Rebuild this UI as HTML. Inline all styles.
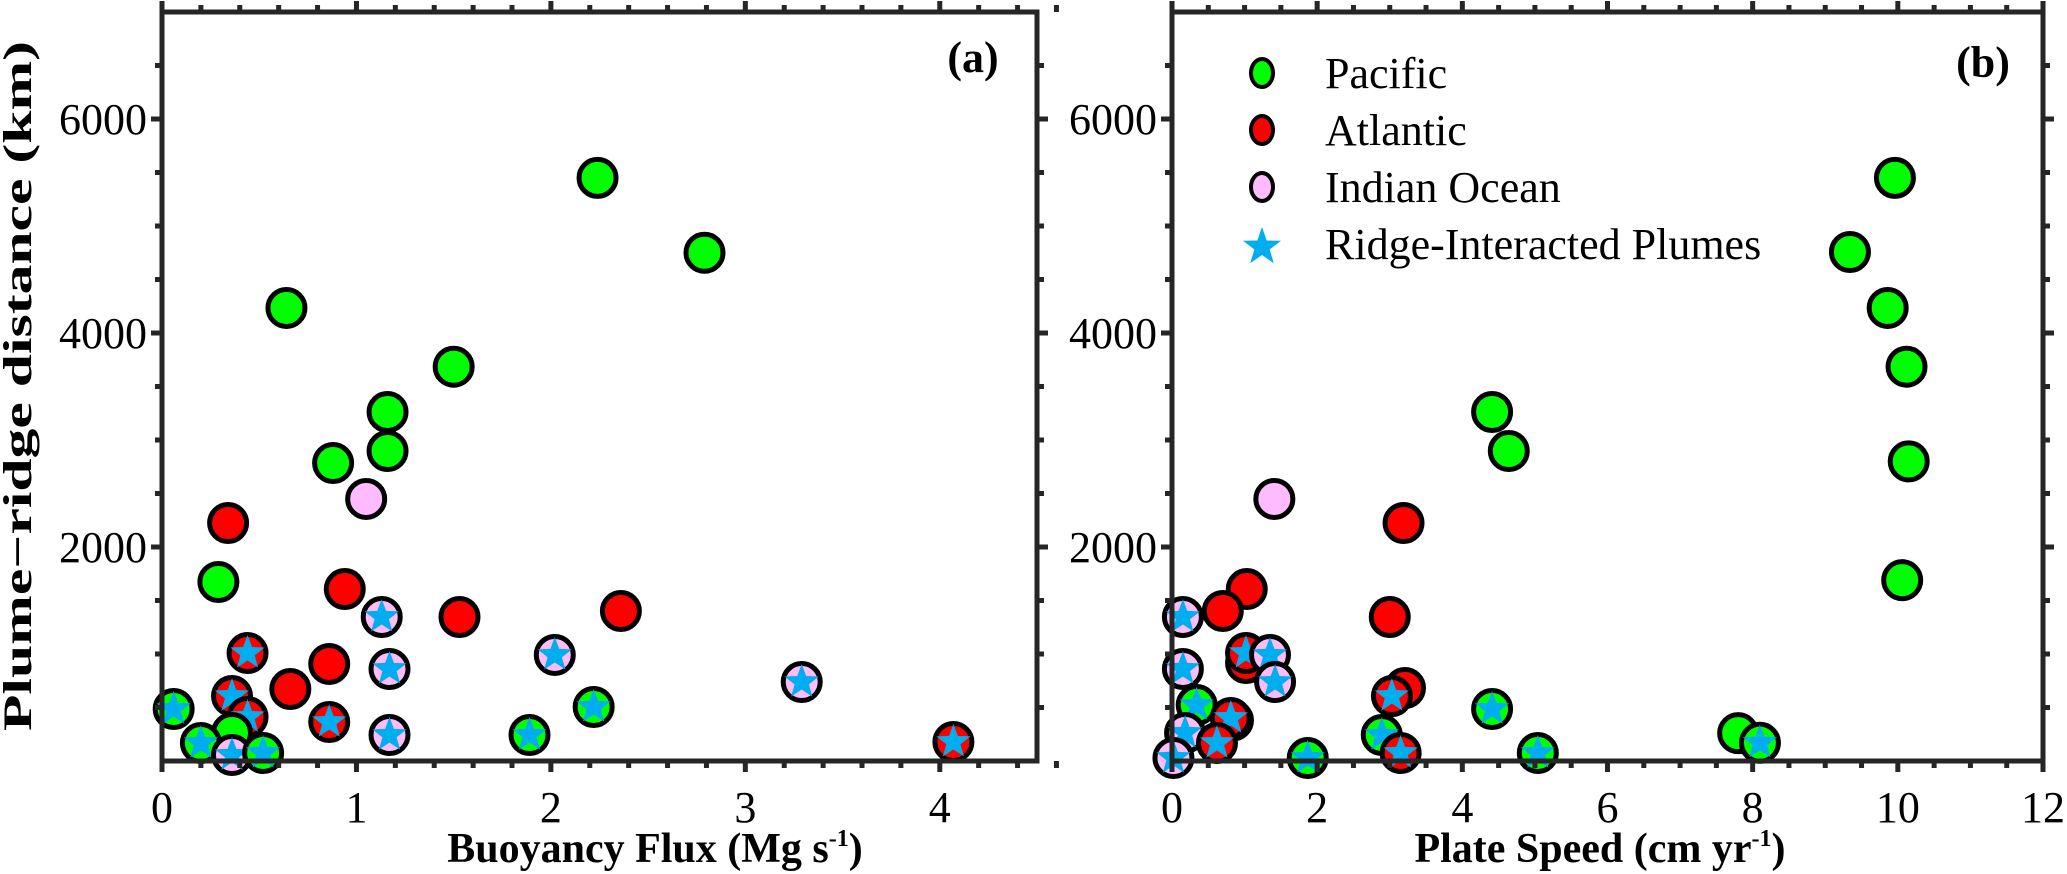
<!DOCTYPE html>
<html><head><meta charset="utf-8"><style>
html,body{margin:0;padding:0;background:#fff;}
svg{display:block;font-family:"Liberation Serif","DejaVu Serif",serif;}
svg text{font-family:"Liberation Serif","DejaVu Serif",serif !important;fill:#000;}
</style></head><body>
<svg id="chart" width="2067" height="874" viewBox="0 0 2067 874" xmlns="http://www.w3.org/2000/svg" font-family="Liberation Serif, serif">
<g id="plotA"></g>
<g id="plotB"></g>
<text x="22" y="386" transform="rotate(-90 22 386)" text-anchor="middle" dominant-baseline="middle" font-weight="bold" font-size="40" textLength="690" lengthAdjust="spacingAndGlyphs">Plume−ridge distance (km)</text>
<text x="655" y="862" text-anchor="middle" font-weight="bold" font-size="42"><tspan>Buoyancy Flux (Mg s</tspan><tspan font-size="24" dy="-16">-1</tspan><tspan dy="16">)</tspan></text>
<text x="1600" y="862" text-anchor="middle" font-weight="bold" font-size="42"><tspan>Plate Speed (cm yr</tspan><tspan font-size="24" dy="-16">-1</tspan><tspan dy="16">)</tspan></text>
<text x="973" y="72" text-anchor="middle" font-weight="bold" font-size="44">(a)</text>
<text x="1983" y="77" text-anchor="middle" font-weight="bold" font-size="44">(b)</text>
<g>
<g><ellipse cx="1262" cy="73" rx="11" ry="14" fill="#00ff00" stroke="#000" stroke-width="4"/><text x="1325" y="88" font-size="44">Pacific</text></g>
<g><ellipse cx="1262" cy="130" rx="11" ry="14" fill="#ff0000" stroke="#000" stroke-width="4"/><text x="1325" y="145" font-size="44">Atlantic</text></g>
<g><ellipse cx="1262" cy="187" rx="11" ry="14" fill="#ffbbff" stroke="#000" stroke-width="4"/><text x="1325" y="202" font-size="44">Indian Ocean</text></g>
<g><polygon id="legStar" fill="#00aeef"/><text x="1325" y="259" font-size="44">Ridge-Interacted Plumes</text></g>
</g>
</svg>
<script>
// Panel (a): buoyancy flux vs distance
const aX = [2.24,2.79,0.64,1.50,1.16,1.16,0.88,1.05,0.34,0.29,0.94,1.13,1.53,0.44,2.02,0.86,1.17,0.66,2.36,3.29,0.06,0.36,0.44,0.86,2.22,0.36,0.20,1.89,1.17,4.07,0.36,0.52];
const aY = [5450,4750,4234,3685,3262,2897,2785,2449,2224,1673,1607,1346,1346,1009,991,907,860,673,1402,738,486,607,411,364,505,262,168,243,243,178,56,75];
const aG = ['P','P','P','P','P','P','P','I','A','P','A','I','A','A','I','A','I','A','A','I','P','A','A','A','P','P','P','P','I','A','I','P'];
const aR = [0,0,0,0,0,0,0,0,0,0,0,1,0,1,1,0,1,0,0,1,1,1,1,1,1,0,1,1,1,1,1,1];
// Panel (b): plate speed vs distance
const bX = [9.96,9.34,9.86,10.12,10.15,10.06,4.41,4.64,1.41,3.19,1.03,0.70,0.15,3.00,1.02,1.02,1.35,0.15,1.42,3.21,3.03,0.34,0.84,0.81,4.41,0.18,2.89,7.80,8.10,0.62,3.15,1.87,5.04,0.02];
const bY = [5450,4757,4234,3685,2800,1690,3262,2897,2449,2224,1607,1402,1346,1346,916,1009,991,860,738,682,607,523,380,402,486,262,243,260,170,168,75,28,75,28];
const bG = ['P','P','P','P','P','P','P','P','I','A','A','A','I','A','A','A','I','I','I','A','A','P','A','A','P','I','P','P','P','A','A','P','P','I'];
const bR = [0,0,0,0,0,0,0,0,0,0,0,0,1,0,0,1,1,1,1,0,1,1,0,1,1,1,1,0,1,1,1,1,1,1];
const aXTicks = ['0','1','2','3','4'];
const bXTicks = ['0','2','4','6','8','10','12'];
const yTicks = ['2000','4000','6000'];

const NS='http://www.w3.org/2000/svg';
const COL={P:'#00ff00',A:'#ff0000',I:'#ffbbff'};
const NAMES={P:'pacific',A:'atlantic',I:'indian-ocean'};
function mk(tag,attrs,parent){const e=document.createElementNS(NS,tag);for(const k in attrs)e.setAttribute(k,attrs[k]);parent.appendChild(e);return e;}
function starPts(cx,cy,R,r){let p=[];for(let i=0;i<10;i++){const a=-Math.PI/2+i*Math.PI/5;const rad=i%2?r:R;p.push((cx+rad*Math.cos(a)).toFixed(1)+','+(cy+rad*Math.sin(a)).toFixed(1));}return p.join(' ');}
document.getElementById('legStar').setAttribute('points',starPts(1262,247,20,8));

const TOP=12,BOT=761,YMAX=7000;
function yS(v){return BOT-(v/YMAX)*(BOT-TOP);}
function panel(g,L,R,xmax,xMajor,xMinor,xt,X,Y,G,Rg,id){
  const xS=v=>L+(v/xmax)*(R-L);
  const mg=mk('g',{},g);
  
  
  for(let i=0;i<X.length;i++){
    const cx=xS(X[i]),cy=yS(Y[i]);
    const pg=mk('g',{},mg);
    
    
    mk('circle',{cx:cx,cy:cy,r:18.5,fill:COL[G[i]],stroke:'#000','stroke-width':5},pg);
    if(Rg[i]) mk('polygon',{points:starPts(cx,cy,18,7.5),fill:'#00aeef'},pg);
  }
  const fr=mk('rect',{x:L,y:TOP,width:R-L,height:BOT-TOP,fill:'none',stroke:'#262626','stroke-width':5},g);
  
  
  const tg=mk('g',{stroke:'#262626','stroke-width':5},g);
  
  
  const nMin=Math.round(xmax/xMinor);
  for(let k=0;k<=nMin;k++){
    const v=k*xMinor, x=xS(v);
    const maj=Math.abs(v/xMajor-Math.round(v/xMajor))<1e-6;
    const len=maj?11:7;
    mk('line',{x1:x,y1:BOT,x2:x,y2:BOT+len},tg);
    mk('line',{x1:x,y1:TOP,x2:x,y2:TOP-len},tg);
  }
  for(let v=500;v<YMAX;v+=500){
    const y=yS(v),maj=v%2000===0,len=maj?11:7;
    mk('line',{x1:L,y1:y,x2:L-len,y2:y},tg);
    mk('line',{x1:R,y1:y,x2:R+len,y2:y},tg);
  }
  const lg=mk('g',{},g);
  
  
  xt.forEach(s=>{const t=mk('text',{x:xS(+s),y:822,'text-anchor':'middle','font-size':44},lg);t.textContent=s;});
  const yl=mk('g',{},g);
  
  
  yTicks.forEach(s=>{const t=mk('text',{x:L-15,y:yS(+s)+15,'text-anchor':'end','font-size':44},yl);t.textContent=s;});
}
panel(document.getElementById('plotA'),162,1037,4.5,1,0.2,aXTicks,aX,aY,aG,aR,'a');
panel(document.getElementById('plotB'),1172,2043,12,2,0.5,bXTicks,bX,bY,bG,bR,'b');
</script>
</body></html>
